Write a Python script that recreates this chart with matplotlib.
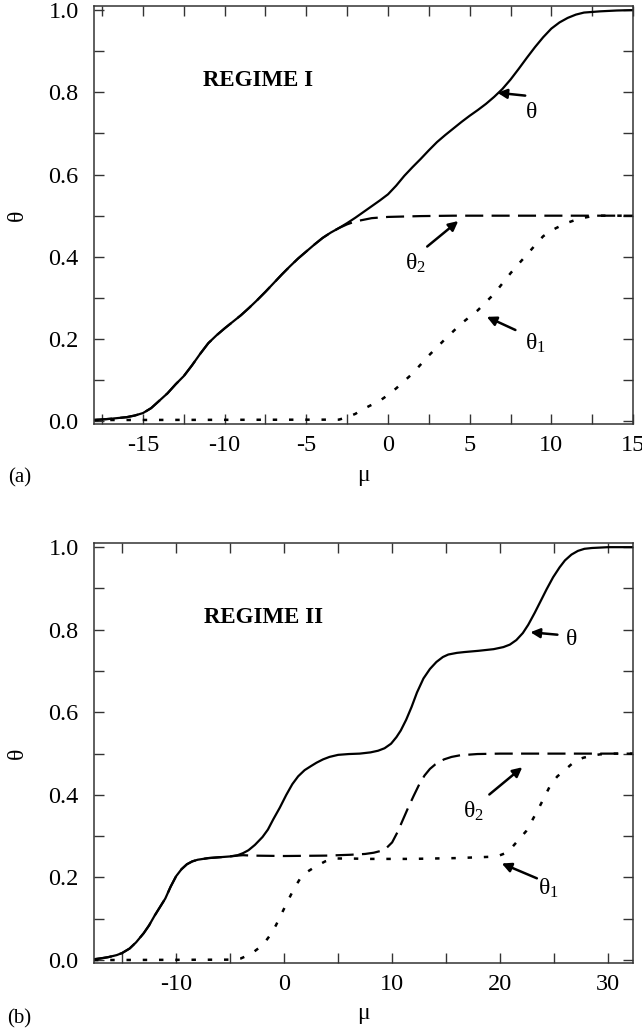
import numpy as np
import matplotlib
matplotlib.use('Agg')
import matplotlib.pyplot as plt

plt.rcParams['font.family'] = ['Liberation Serif', 'DejaVu Serif']
plt.rcParams['mathtext.fontset'] = 'custom'
plt.rcParams['mathtext.rm'] = 'Liberation Serif'
plt.rcParams['mathtext.it'] = 'Liberation Serif'
plt.rcParams['lines.scale_dashes'] = False

# ---- regime I (panel a) ----
mu_a = [-18, -17, -16, -15.5, -15, -14.5, -14, -13.5, -13, -12.5, -12, -11.5, -11, -10.5, -10,
        -9.5, -9, -8.5, -8, -7.5, -7, -6.5, -6, -5.5, -5, -4.5, -4, -3.5, -3, -2.5, -2, -1.5,
        -1, -0.5, 0, 0.5, 1, 1.5, 2, 2.5, 3, 3.5, 4, 4.5, 5, 5.5, 6, 6.5, 7, 7.5, 8, 8.5, 9,
        9.5, 10, 10.5, 11, 11.5, 12, 13, 14, 15]
th_a = [0.003, 0.006, 0.01, 0.014, 0.02, 0.032, 0.05, 0.068, 0.09, 0.11, 0.136, 0.164, 0.19,
        0.209, 0.226, 0.242, 0.258, 0.276, 0.295, 0.315, 0.336, 0.357, 0.377, 0.396, 0.413,
        0.43, 0.446, 0.459, 0.47, 0.482, 0.495, 0.509, 0.523, 0.537, 0.552, 0.573, 0.597,
        0.618, 0.638, 0.659, 0.679, 0.696, 0.712, 0.728, 0.743, 0.757, 0.772, 0.789, 0.808,
        0.831, 0.857, 0.884, 0.91, 0.934, 0.955, 0.97, 0.981, 0.989, 0.994, 0.997, 0.999, 1.0]
mu2_a = [-18, -17, -16, -15.5, -15, -14.5, -14, -13.5, -13, -12.5, -12, -11.5, -11, -10.5, -10,
         -9.5, -9, -8.5, -8, -7.5, -7, -6.5, -6, -5.5, -5, -4.5, -4, -3.5, -3, -2.5, -2, -1.5,
         -1, 0, 1, 2, 4, 15]
th2_a = [0.003, 0.006, 0.01, 0.014, 0.02, 0.032, 0.05, 0.068, 0.09, 0.11, 0.136, 0.164, 0.19,
         0.209, 0.226, 0.242, 0.258, 0.276, 0.295, 0.315, 0.336, 0.357, 0.377, 0.396, 0.413,
         0.43, 0.446, 0.459, 0.47, 0.479, 0.486, 0.49, 0.494, 0.497, 0.498, 0.499, 0.5, 0.5]
mu1_a = [-18, -3, -2.5, -2, -1.5, -1, -0.5, 0, 0.5, 1, 1.5, 2, 2.5, 3, 3.5, 4, 4.5, 5, 5.5, 6,
         6.5, 7, 7.5, 8, 8.5, 9, 9.5, 10, 10.5, 11, 11.5, 12, 12.5, 13, 15]
th1_a = [0.003, 0.004, 0.01, 0.018, 0.03, 0.04, 0.05, 0.064, 0.08, 0.098, 0.116, 0.138, 0.16,
         0.18, 0.2, 0.219, 0.238, 0.254, 0.27, 0.29, 0.31, 0.335, 0.36, 0.383, 0.405, 0.428,
         0.45, 0.464, 0.474, 0.483, 0.49, 0.495, 0.499, 0.5, 0.5]

# ---- regime II (panel b) ----
mu_b = [-17.6, -17, -16.3, -15.5, -15, -14.3, -13.7, -13, -12.5, -12, -11.5, -11, -10.5, -10,
        -9.5, -9, -8.5, -8, -7, -6, -5, -4.3, -3.8, -3.3, -2.7, -2, -1.5, -1, -0.4, 0.2, 0.76,
        1.3, 1.9, 2.5, 3.0, 3.6, 4.2, 5, 6, 7, 8, 8.7, 9.3, 9.9, 10.4, 10.8, 11.3, 11.8, 12.3,
        12.9, 13.5, 14.1, 14.7, 15.2, 16, 16.7, 18, 19.4, 20.3, 20.9, 21.5, 22.1, 22.6, 23.2,
        23.8, 24.3, 24.9, 25.5, 26, 26.6, 27.2, 27.8, 28.5, 30, 32.3]
th_b = [0.002, 0.004, 0.007, 0.012, 0.017, 0.028, 0.043, 0.065, 0.084, 0.107, 0.128, 0.149,
        0.178, 0.203, 0.22, 0.232, 0.239, 0.243, 0.247, 0.249, 0.251, 0.254, 0.259, 0.266,
        0.279, 0.298, 0.316, 0.341, 0.369, 0.4, 0.426, 0.445, 0.46, 0.47, 0.478, 0.486, 0.492,
        0.497, 0.499, 0.5, 0.503, 0.507, 0.513, 0.524, 0.54, 0.556, 0.582, 0.613, 0.648, 0.682,
        0.705, 0.722, 0.734, 0.74, 0.744, 0.746, 0.749, 0.753, 0.758, 0.764, 0.775, 0.792,
        0.812, 0.841, 0.872, 0.898, 0.927, 0.951, 0.968, 0.982, 0.991, 0.996, 0.998, 1.0, 1.0]
mu2_b = [-17.6, -17, -16.3, -15.5, -15, -14.3, -13.7, -13, -12.5, -12, -11.5, -11, -10.5, -10,
         -9.5, -9, -8.5, -8, -7, -6, -5, -4.3, -3.8, -3, 0, 4, 6.1, 7.5, 8.3, 8.9, 9.5, 10,
         10.5, 11, 11.5, 12, 12.5, 13, 13.5, 14, 14.8, 15.5, 16.3, 17.9, 20, 32.3]
th2_b = [0.002, 0.004, 0.007, 0.012, 0.017, 0.028, 0.043, 0.065, 0.084, 0.107, 0.128, 0.149,
         0.178, 0.203, 0.22, 0.232, 0.239, 0.243, 0.247, 0.249, 0.251, 0.253, 0.254, 0.253,
         0.252, 0.253, 0.255, 0.257, 0.26, 0.264, 0.272, 0.285, 0.31, 0.34, 0.37, 0.398, 0.425,
         0.447, 0.463, 0.474, 0.486, 0.492, 0.496, 0.499, 0.5, 0.5]
mu1_b = [-17.6, -5, -4, -3.4, -2.8, -2.3, -1.9, -1.3, -0.76, -0.2, 0.38, 0.9, 1.5, 2.1, 2.7,
         3.3, 3.8, 4.4, 4.9, 6, 8, 11.8, 16, 19, 19.9, 20.5, 21, 21.5, 22, 22.4, 23, 23.6, 24.1,
         24.7, 25.3, 25.9, 26.5, 27, 27.7, 28.5, 29.2, 30, 32.3]
th1_b = [0.0, 0.001, 0.004, 0.011, 0.02, 0.03, 0.039, 0.06, 0.084, 0.114, 0.145, 0.172, 0.198,
         0.213, 0.223, 0.232, 0.239, 0.244, 0.246, 0.246, 0.245, 0.245, 0.247, 0.25, 0.253,
         0.259, 0.27, 0.285, 0.3, 0.312, 0.34, 0.369, 0.395, 0.426, 0.445, 0.458, 0.472, 0.483,
         0.49, 0.495, 0.498, 0.5, 0.5]

fig = plt.figure(figsize=(6.42, 10.32), dpi=100)
ax1 = fig.add_axes([0.1464, 0.589, 0.8396, 0.4052])
ax2 = fig.add_axes([0.1464, 0.0669, 0.8396, 0.4069])

lw = 1.6
dash_long = (0, (13, 6))
dash_dot = (0, (3.2, 8.5))


def style(ax, xlim, xmaj, xmin):
    ax.set_xlim(*xlim)
    ax.set_ylim(-0.007, 1.01)
    ax.set_xticks(xmaj)
    ax.set_xticks(xmin, minor=True)
    ax.set_yticks(np.arange(0, 1.01, 0.2))
    ax.set_yticks(np.arange(0.1, 1.0, 0.2), minor=True)
    ax.set_yticklabels(['0.0', '0.2', '0.4', '0.6', '0.8', '1.0'])
    ax.set_xticklabels(['%d' % v for v in xmaj])
    ax.tick_params(which='both', direction='in', top=True, right=True, color='#333333',
                   width=1.0, labelsize=17.5, length=7)
    ax.tick_params(axis='y', pad=11)
    ax.tick_params(axis='x', pad=8)
    for s in ax.spines.values():
        s.set_linewidth(1.1)
        s.set_color('#333333')
    ax.set_ylabel('θ', fontsize=17, labelpad=15)
    ax.set_xlabel('μ', fontsize=17, labelpad=6)


def arrow(ax, tail, head):
    ax.annotate('', xy=head, xytext=tail,
                arrowprops=dict(arrowstyle='-|>', color='black', lw=1.8,
                                mutation_scale=14, shrinkA=0, shrinkB=0))


# panel a
ax1.plot(mu_a, th_a, color='black', lw=lw)
ax1.plot(mu2_a, th2_a, color='black', lw=lw, linestyle=dash_long)
ax1.plot(mu1_a, th1_a, color='black', lw=lw + 0.2, linestyle=dash_dot)
style(ax1, (-18, 15), [-15, -10, -5, 0, 5, 10, 15], np.arange(-17.5, 15, 2.5))
ax1.text(-11.3, 0.829, 'REGIME I', fontsize=16.5, fontweight='bold', va='center')
arrow(ax1, (8.4, 0.792), (6.7, 0.799))
ax1.text(8.8, 0.751, 'θ', fontsize=17, ha='center', va='center')
arrow(ax1, (2.4, 0.425), (4.3, 0.487))
ax1.text(1.7, 0.385, 'θ$_2$', fontsize=17, ha='center', va='center')
arrow(ax1, (7.8, 0.222), (6.05, 0.254))
ax1.text(9.05, 0.19, 'θ$_1$', fontsize=17, ha='center', va='center')

# panel b
ax2.plot(mu_b, th_b, color='black', lw=lw)
ax2.plot(mu2_b, th2_b, color='black', lw=lw, linestyle=dash_long)
ax2.plot(mu1_b, th1_b, color='black', lw=lw + 0.2, linestyle=dash_dot)
style(ax2, (-17.6, 32.3), [-10, 0, 10, 20, 30], np.arange(-15, 32, 5))
ax2.text(-7.4, 0.829, 'REGIME II', fontsize=16.5, fontweight='bold', va='center')
arrow(ax2, (25.3, 0.788), (22.8, 0.794))
ax2.text(26.6, 0.776, 'θ', fontsize=17, ha='center', va='center')
arrow(ax2, (19.0, 0.401), (22.05, 0.467))
ax2.text(17.5, 0.36, 'θ$_2$', fontsize=17, ha='center', va='center')
arrow(ax2, (23.4, 0.198), (20.15, 0.234))
ax2.text(24.5, 0.173, 'θ$_1$', fontsize=17, ha='center', va='center')

fig.text(0.03, 1 - 478 / 1032, '(a)', fontsize=15, ha='center', va='center')
fig.text(0.03, 1 - 1019 / 1032, '(b)', fontsize=15, ha='center', va='center')

fig.savefig('out.png', dpi=100)
